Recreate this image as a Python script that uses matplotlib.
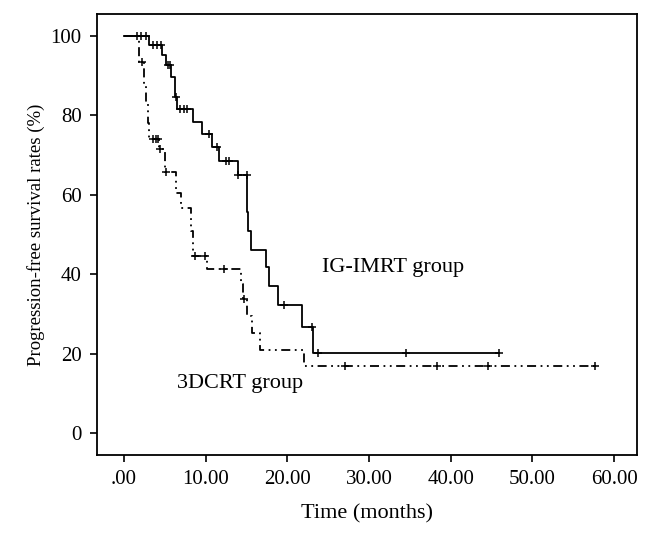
import numpy as np
import matplotlib
matplotlib.use("Agg")
import matplotlib.pyplot as plt

# Datos (tiempo en meses, supervivencia en %)
ig_tiempos = [0, 3.05, 4.6, 5.2, 5.8, 6.2, 6.5, 8.4, 9.6, 10.8, 11.6, 13.9,
              15.1, 15.2, 15.5, 17.4, 17.8, 18.9, 21.85, 23.15]
ig_superv = [100, 97.6, 95.2, 92.7, 89.7, 84.5, 81.5, 78.4, 75.3, 72.0, 68.4, 64.9,
             55.6, 51.0, 46.2, 41.8, 37.1, 32.3, 26.8, 20.3]
ig_censura = [1.6, 2.1, 2.7, 3.6, 4.1, 4.5, 5.4, 5.6, 6.4, 6.9, 7.3, 7.75, 10.4,
              11.4, 12.45, 12.8, 14.0, 15.0, 19.6, 23.0, 23.7, 34.5, 45.9]

crt_tiempos = [0, 1.8, 2.5, 2.7, 2.9, 3.1, 4.3, 5.0, 6.4, 7.0, 8.2, 8.5, 10.2,
               14.3, 14.6, 15.1, 15.7, 16.6, 22.0]
crt_superv = [100, 93.3, 88.0, 83.0, 78.0, 74.0, 71.4, 65.7, 60.5, 56.6, 51.0, 44.7, 41.3,
              37.5, 33.8, 29.5, 25.3, 21.0, 16.9]
crt_censura = [2.15, 3.5, 3.9, 4.15, 4.4, 5.2, 8.7, 9.9, 12.2, 14.7, 27.1, 38.3, 44.6, 57.6]

x_ticks = [0, 10, 20, 30, 40, 50, 60]
x_etiquetas = [".00", "10.00", "20.00", "30.00", "40.00", "50.00", "60.00"]
y_ticks = [0, 20, 40, 60, 80, 100]

plt.rcParams['font.family'] = ['Liberation Serif', 'DejaVu Serif']


def curva(ax, tiempos, superv, censura, estilo):
    # Escalera de Kaplan-Meier hasta la ultima censura
    t = list(tiempos) + [max(censura)]
    s = list(superv) + [superv[-1]]
    ax.step(t, s, where='post', color='black', lw=1.3, linestyle=estilo)
    idx = np.searchsorted(tiempos, censura, side='right') - 1
    ax.plot(censura, np.array(superv)[idx], linestyle='none', marker='+',
            color='black', markersize=6, markeredgewidth=1.1)


fig = plt.figure(figsize=(6.55, 5.36), dpi=100)
ax = fig.add_axes([0.1481, 0.1511, 0.8244, 0.8228])

curva(ax, crt_tiempos, crt_superv, crt_censura, (0, (5, 2.5, 1, 2.5, 1, 2.5)))
curva(ax, ig_tiempos, ig_superv, ig_censura, '-')

ax.set_xlim(-3.3, 62.8)
ax.set_ylim(-5.5, 105.5)
ax.set_xticks(x_ticks)
ax.set_xticklabels(x_etiquetas)
ax.set_yticks(y_ticks)
ax.tick_params(direction='out', length=5, width=1.2, labelsize=15, pad=6)
for lado in ax.spines.values():
    lado.set_linewidth(1.3)

ax.set_xlabel("Time (months)", fontsize=16, labelpad=11)
ax.set_ylabel("Progression-free survival rates (%)", fontsize=13.5, labelpad=4)

ax.text(24.2, 40.6, "IG-IMRT group", fontsize=16, ha='left', va='baseline')
ax.text(21.9, 11.3, "3DCRT group", fontsize=16, ha='right', va='baseline')

fig.savefig("out.png", dpi=100)
